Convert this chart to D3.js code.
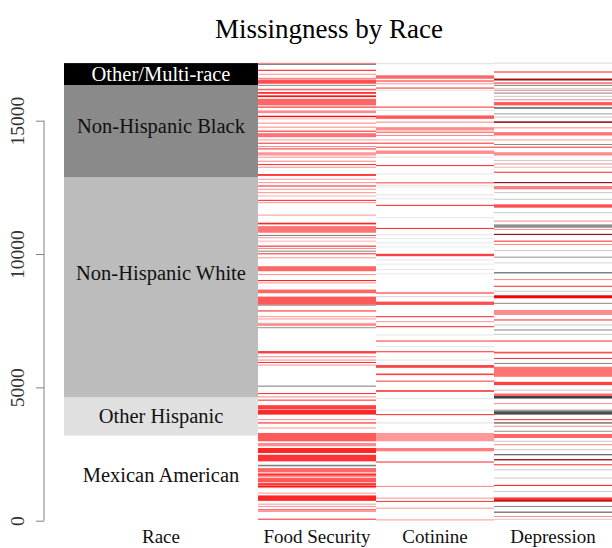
<!DOCTYPE html>
<html>
<head>
<meta charset="utf-8">
<script src="https://cdn.jsdelivr.net/npm/d3@7"></script>
<style>
  html, body { margin: 0; padding: 0; background: #fff; }
  svg { display: block; }
  text { font-family: "Liberation Serif", "Times New Roman", serif; }
</style>
</head>
<body>
<svg id="chart" width="612" height="548"></svg>
<script>
// ---------------- DATA ----------------
const title = "Missingness by Race";
const nRows = 17160;
const raceCategories = ["Mexican American", "Other Hispanic", "Non-Hispanic White", "Non-Hispanic Black", "Other/Multi-race"];
const raceCounts = [3195, 1433, 8250, 3461, 821];
const raceLabelRows = [1714, 3908, 9289, 14820, 16750];
const variables = ["Food Security", "Cotinine", "Depression"];
const yTicks = [0, 5000, 10000, 15000];

// [fromRow, toRow, density] — runs of missing values (drawn red)
const foodMissing = [
  [17130,17170,0.5],[16870,16910,0.9],[16720,16760,0.4],[16536,16612,0.45],[16386,16525,0.7],
  [16138,16198,0.6],[16010,16074,0.85],[15886,15950,0.95],[15574,15822,0.6],[15490,15530,0.9],
  [15284,15386,0.45],[15135,15185,1],[15050,15090,0.3],[14888,14928,0.45],[14738,14778,0.45],
  [14588,14628,0.85],[14382,14532,0.55],[14260,14300,0.4],[14136,14176,0.8],[14012,14052,0.45],
  [13922,13962,0.8],[13694,13818,0.4],[13610,13650,0.4],[13460,13500,0.45],[13336,13376,0.8],
  [13234,13274,0.4],[12930,13000,0.8],[12783,12823,0.4],[12659,12699,0.4],[12531,12571,0.85],
  [12407,12447,0.4],[12283,12323,0.4],[12155,12195,0.3],[11993,12033,0.85],[11907,11947,0.4],
  [11440,11480,0.4],[11111,11175,0.85],[10799,11047,0.55],[10591,10631,0.4],[10463,10503,0.3],
  [10275,10315,0.9],[10188,10228,0.45],[9989,10029,0.8],[9839,9879,0.4],[9355,9543,0.6],
  [9211,9251,0.4],[8985,9025,0.9],[8899,8939,0.4],[8530,8667,0.6],[8100,8404,0.65],
  [7846,7886,0.85],[7632,7672,0.4],[7545,7585,0.4],[7380,7420,0.4],[7320,7360,0.8],
  [6272,6362,0.75],[6128,6168,0.45],[6004,6044,0.45],[5913,5953,0.8],[5816,5856,0.4],
  [4748,4788,0.8],[4624,4664,0.45],[4500,4540,0.8],[4170,4332,0.75],[3978,4150,0.85],
  [3770,3810,0.45],[3646,3686,0.9],[3458,3498,0.4],[2978,3290,0.65],[2790,2914,0.45],
  [2538,2726,0.85],[2226,2474,0.8],[1820,1974,0.6],[1620,1800,0.45],[1440,1600,0.65],
  [1222,1420,0.5],[1702,1742,0.9],[1352,1392,0.9],[1266,1306,0.9],[1014,1054,0.4],
  [744,948,0.85],[600,640,0.4],[514,554,0.4],[386,426,0.85],[326,366,0.4],[36,76,0.8]
];
// [fromRow, toRow, level] — runs of observed values (drawn grey, darker = higher)
const foodObserved = [
  [17090,17130,0.5],[16306,16346,0.45],[10677,10717,0.5],[10087,10127,0.45],
  [8070,8100,0.45],[7218,7258,0.4],[5026,5066,0.5],[2038,2098,0.5]
];

const cotinineMissing = [
  [16574,16702,0.6],[16468,16508,0.85],[16366,16406,0.4],[16204,16244,0.8],[15490,15530,0.8],
  [15070,15198,0.65],[14926,14966,0.45],[14634,14758,0.45],[14550,14590,0.7],[14426,14466,0.45],
  [14260,14300,0.3],[14136,14176,0.8],[13986,14026,0.75],[13754,13882,0.45],[13298,13338,0.8],
  [12650,12690,0.7],[11805,11845,0.8],[10940,10980,0.8],[9919,10009,0.75],[8500,8580,0.45],
  [8092,8216,0.7],[7632,7672,0.8],[7444,7484,0.4],[7256,7296,0.8],[6718,6758,0.75],
  [6316,6356,0.8],[5734,5836,0.75],[5460,5520,0.75],[5214,5254,0.75],[4832,4896,0.75],
  [3958,3998,0.8],[2978,3290,0.4],[2602,2726,0.5],[2180,2220,0.8],[1266,1306,0.45],
  [826,866,0.4],[702,742,0.75],[450,490,0.4],[10,50,0.4]
];
const cotinineObserved = [
  [17118,17158,0.12],[16118,16158,0.1],[15366,15406,0.1],[13610,13650,0.1],[12982,13022,0.1],
  [12560,12600,0.1],[12491,12531,0.08],[12200,12240,0.1],[12050,12090,0.1],[11343,11383,0.1],
  [10700,10740,0.1],[10560,10600,0.08],[10400,10440,0.1],[10245,10285,0.08],
  [9760,9800,0.1],[9600,9640,0.08],[9400,9440,0.1],[9240,9280,0.08],
  [8384,8424,0.15],[6944,6984,0.1],[6504,6544,0.1],[6004,6044,0.1],[4560,4600,0.1],
  [4124,4164,0.1],[3646,3686,0.12]
];

const depressionMissing = [
  [16788,16864,0.45],[16514,16574,0.65],[16392,16432,0.85],[16118,16158,0.45],[15764,15804,0.45],
  [15574,15698,0.65],[14920,14972,0.6],[14712,14752,0.45],[14446,14570,0.55],[14260,14300,0.4],
  [13986,14026,0.8],[13694,13818,0.45],[13358,13398,0.45],[13046,13086,0.8],[12659,12699,0.6],
  [12427,12551,0.5],[11739,11863,0.7],[11215,11255,0.45],[10903,10943,0.45],[10715,10755,0.6],
  [10463,10503,0.8],[10339,10379,0.45],[9023,9063,0.45],[8771,8811,0.8],[8340,8440,1],
  [7716,7904,0.45],[7508,7548,0.8],[6718,6758,0.8],[6272,6336,0.7],[6064,6104,0.8],
  [5396,5772,0.55],[5084,5208,0.75],[4680,4768,0.6],[4372,4412,0.45],[3770,3810,0.8],
  [3522,3562,0.45],[3102,3252,0.6],[2830,2870,0.45],[2266,2306,0.6],[2078,2118,0.8],
  [1304,1344,0.9],[722,872,0.8],[138,178,0.45]
];
const depressionObserved = [
  [17140,17180,0.15],[16514,16574,0.9],[16306,16346,0.5],[16178,16218,0.2],[16016,16056,0.45],
  [15892,15932,0.2],[15446,15510,0.55],[15238,15278,0.35],[15114,15154,0.2],[14920,14972,0.8],
  [14088,14128,0.45],[13486,13526,0.2],[13234,13274,0.2],[12659,12699,0.9],[12283,12323,0.2],
  [12031,12071,0.2],[11531,11571,0.2],[10987,11111,0.45],[10715,10755,0.9],[10113,10153,0.2],
  [9861,9901,0.4],[9651,9691,0.15],[9275,9315,0.7],[8583,8623,0.2],[8440,8468,0.45],
  [8132,8172,0.45],[7320,7360,0.2],[7132,7172,0.45],[6966,7006,0.2],[5876,5916,0.45],
  [4876,4916,0.2],[4580,4680,0.75],[4124,4164,0.5],[3978,4106,0.7],[3646,3686,0.75],
  [3334,3374,0.4],[2958,2998,0.2],[2642,2682,0.2],[2454,2494,0.7],[2266,2306,0.9],
  [1890,1930,0.2],[1578,1618,0.2],[1078,1118,0.2],[722,780,0.85],[514,554,0.45],
  [300,340,0.7],[36,76,0.2]
];

// ---------------- DRAWING ----------------
const svg = d3.select("#chart");
const raceFill = ["#ffffff", "#e0e0e0", "#bcbcbc", "#8a8a8a", "#000000"];
const raceText = ["#111", "#111", "#111", "#111", "#ffffff"];

const y = d3.scaleLinear().domain([0, 15000]).range([520.7, 120.7]);
const raceX = d3.scaleBand().domain(["Race"]).range([64, 258]);
const x = d3.scaleBand().domain(variables).range([258, 612]);

// title
svg.append("text")
  .attr("x", 329).attr("y", 38)
  .attr("text-anchor", "middle")
  .attr("font-size", 27)
  .attr("fill", "#000")
  .text(title);

// race blocks
let cum = 0;
const raceBlocks = raceCategories.map((c, i) => {
  const b = { cat: c, from: cum, to: cum + raceCounts[i], i };
  cum += raceCounts[i];
  return b;
});
const gRace = svg.append("g");
gRace.selectAll("rect").data(raceBlocks).join("rect")
  .attr("x", raceX("Race"))
  .attr("width", raceX.bandwidth())
  .attr("y", d => y(d.to))
  .attr("height", d => y(d.from) - y(d.to))
  .attr("fill", d => raceFill[d.i]);
gRace.selectAll("text").data(raceBlocks).join("text")
  .attr("x", raceX("Race") + raceX.bandwidth() / 2)
  .attr("y", d => y(raceLabelRows[d.i]) + 7)
  .attr("text-anchor", "middle")
  .attr("font-size", 20.5)
  .attr("fill", d => raceText[d.i])
  .text(d => d.cat);

// variable columns
const columns = [
  { name: "Food Security", miss: foodMissing, obs: foodObserved },
  { name: "Cotinine", miss: cotinineMissing, obs: cotinineObserved },
  { name: "Depression", miss: depressionMissing, obs: depressionObserved }
];
columns.forEach(col => {
  const g = svg.append("g");
  g.selectAll("rect.obs").data(col.obs).join("rect")
    .attr("class", "obs")
    .attr("x", x(col.name)).attr("width", x.bandwidth())
    .attr("y", d => y(d[1]))
    .attr("height", d => Math.max(1, y(d[0]) - y(d[1])))
    .attr("fill", d => { const v = Math.round(255 * (1 - d[2])); return d3.rgb(v, v, v); });
  g.selectAll("rect.miss").data(col.miss).join("rect")
    .attr("class", "miss")
    .attr("x", x(col.name)).attr("width", x.bandwidth())
    .attr("y", d => y(d[1]))
    .attr("height", d => Math.max(1, y(d[0]) - y(d[1])))
    .attr("fill", "#ff0000")
    .attr("fill-opacity", d => d[2]);
});

// y axis
const axis = svg.append("g")
  .attr("transform", "translate(44,0)")
  .call(d3.axisLeft(y).tickValues(yTicks).tickSize(8).tickFormat(d3.format("d")));
axis.select(".domain").remove();
axis.append("line")
  .attr("x1", 0).attr("x2", 0)
  .attr("y1", y(0)).attr("y2", y(15000))
  .attr("stroke", "#808080");
axis.selectAll(".tick line").attr("stroke", "#808080");
axis.selectAll(".tick text")
  .attr("x", null).attr("dy", null)
  .attr("transform", "translate(-20,0) rotate(-90)")
  .attr("text-anchor", "middle")
  .attr("font-family", "Liberation Serif, serif")
  .attr("font-size", 19.5)
  .attr("fill", "#333");

// x labels
const xLabels = [{ t: "Race", cx: raceX("Race") + raceX.bandwidth() / 2 }]
  .concat(variables.map(v => ({ t: v, cx: x(v) + x.bandwidth() / 2 })));
svg.append("g").selectAll("text").data(xLabels).join("text")
  .attr("x", d => d.cx).attr("y", 543)
  .attr("text-anchor", "middle")
  .attr("font-size", 19)
  .attr("fill", "#111")
  .text(d => d.t);
</script>
</body>
</html>
